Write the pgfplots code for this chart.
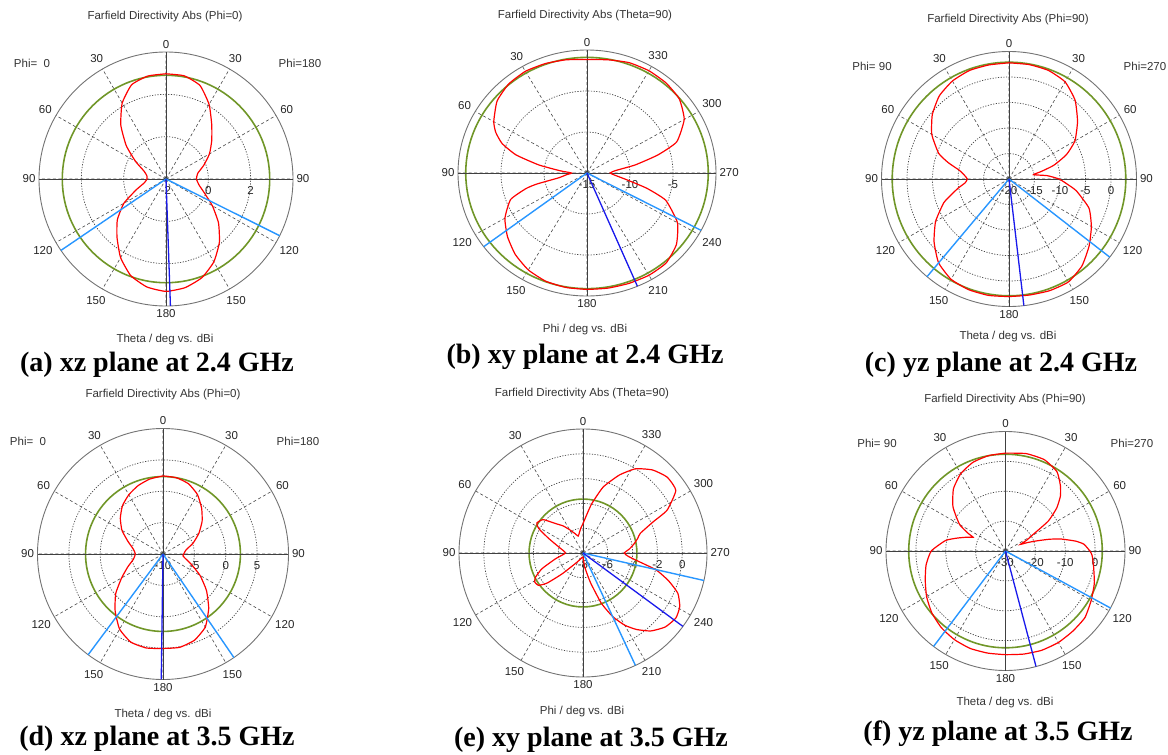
\documentclass[border=0pt]{standalone}
\usepackage{fontspec}
\setmainfont{Liberation Sans}
\newfontfamily\capfont{Liberation Serif}
\usepackage{pgfplots}
\usepgfplotslibrary{polar}
\pgfplotsset{compat=1.18}
\usepackage{pgfplotstable}

\definecolor{cstred}{RGB}{255,0,0}
\definecolor{cstgreen}{RGB}{112,150,40}
\definecolor{cstblue}{RGB}{25,25,235}
\definecolor{cstlblue}{RGB}{40,150,255}
\definecolor{cstgrid}{RGB}{70,70,70}

\newcommand\cstf{\fontsize{11.5}{13}\selectfont}
\newcommand\capf{\capfont\bfseries\fontsize{28}{32}\selectfont}

\pgfplotsset{
  cst/.style={
    scale only axis, clip=false,
    xmin=0, xmax=360, ymin=0,
    xtick={0,30,...,330},
    grid=major,
    x grid style={dash pattern=on 3pt off 2.5pt, cstgrid, line width=0.6pt},
    y grid style={dash pattern=on 1.2pt off 1.5pt, cstgrid, line width=0.7pt},
    axis line style={black!55, line width=0.9pt},
    tick style={draw=none},
    xticklabel style={font=\cstf, text=black!85},
    yticklabel style={font=\cstf, text=black!85, anchor=north, yshift=-4pt},
    extra y tick style={grid=major, y grid style={solid, cstgreen, line width=1.6pt}, major grid style={solid, cstgreen, line width=1.6pt}},
    extra y tick labels={},
  },
  thetalab/.style={xticklabels={90,60,30,0,30,60,90,120,150,180,150,120}},
  philab/.style={xticklabels={270,300,330,0,30,60,90,120,150,180,210,240}},
  redc/.style={cstred, line width=1.2pt, smooth, tension=0.3},
  crossl/.style={black!75, line width=0.7pt},
  mainl/.style={cstblue, line width=1.3pt},
  bwl/.style={cstlblue, line width=1.4pt},
}

% ---- (a) xz 2.4 GHz, dBi, centre -2
\pgfplotstableread{
t d
0 2.97
10 2.94
20 2.74
30 2.14
40 1.32
50 0.45
60 -0.34
70 -0.89
80 -1.08
90 -1.10
100 -0.96
110 -0.50
120 0.30
130 1.00
140 1.60
150 2.29
160 2.86
170 3.18
180 3.31
190 3.21
200 2.96
210 2.52
220 1.92
230 1.24
240 0.53
250 -0.07
260 -0.42
270 -0.56
280 -0.48
290 -0.10
300 0.37
310 0.82
320 1.36
330 2.07
340 2.70
350 2.95
360 2.97
}\tabA
% ---- (b) xy 2.4 GHz, centre -15
\pgfplotstableread{
t d
0 -1.17
10 -0.98
20 -0.80
30 -0.68
40 -0.83
50 -1.35
60 -2.48
65 -3.30
70 -4.50
75 -6.45
80 -9.30
85 -11.85
90 -13.20
95 -12.60
100 -11.70
103 -9.00
105 -7.65
110 -5.55
120 -3.98
130 -2.93
140 -2.03
150 -1.35
160 -0.96
170 -0.83
180 -0.81
190 -0.75
200 -0.68
210 -0.60
220 -0.68
230 -1.43
240 -2.85
250 -5.25
255 -7.80
260 -10.35
265 -11.70
270 -12.30
275 -11.70
280 -9.30
285 -6.45
290 -3.90
300 -1.95
310 -0.98
320 -0.68
330 -0.60
340 -0.68
350 -0.98
360 -1.17
}\tabB
% ---- (c) yz 2.4 GHz, centre -20
\pgfplotstableread{
t d
0 2.78
10 2.71
20 2.65
30 2.19
40 1.27
50 -0.37
60 -2.52
70 -5.34
75 -7.70
80 -10.10
85 -11.20
90 -11.82
95 -11.36
100 -9.92
105 -8.35
110 -6.39
120 -3.38
130 -0.82
140 1.47
150 2.71
160 3.10
170 3.17
180 3.04
190 3.10
200 3.30
210 3.30
220 2.25
230 0.49
240 -1.35
250 -3.31
260 -6.58
265 -8.55
270 -10.18
275 -12.47
280 -15.09
283 -13.59
287 -10.84
293 -7.76
300 -5.08
310 -2.46
320 0.16
330 1.99
340 2.65
350 2.78
360 2.78
}\tabC
% ---- (d) xz 3.5 GHz, centre -10
\pgfplotstableread{
t d
0 2.45
10 2.13
20 1.60
30 0.90
40 0.05
50 -1.12
60 -2.45
70 -4.04
80 -5.16
90 -5.59
100 -5.21
110 -4.04
120 -2.39
130 -0.16
140 1.86
150 3.83
160 4.95
170 5.21
180 5.05
190 5.11
200 4.63
210 3.46
220 1.33
230 -0.96
240 -3.19
250 -5.21
260 -6.49
265 -6.81
270 -6.70
280 -6.28
290 -4.89
300 -3.40
310 -1.86
320 -0.43
330 0.96
340 1.91
350 2.34
360 2.45
}\tabD
% ---- (e) xy 3.5 GHz, centre -8
\pgfplotstableread{
t d
0 -5.63
5 -5.98
10 -6.33
16 -6.58
22 -6.33
29 -5.90
36 -5.31
43 -4.75
50 -3.81
57 -3.56
61 -3.91
67 -4.99
78 -6.12
90 -6.58
102 -5.72
111 -4.45
117 -3.70
121 -3.46
126 -3.56
130 -4.24
135 -5.63
144 -6.95
155 -7.41
165 -7.60
175 -7.68
180 -7.68
187 -6.87
194 -5.58
200 -3.70
205 -2.35
210 -1.28
215 -0.47
221 0.33
228 0.92
235 1.14
241 0.92
247 0.31
252 -0.74
257 -1.95
262 -3.62
266 -4.37
270 -4.67
275 -4.24
280 -3.83
285 -3.43
289 -3.11
294 -1.79
297 -0.39
304 1.03
312 1.14
320 0.74
328 0.01
335 -1.06
343 -2.44
350 -3.97
355 -4.99
360 -5.63
}\tabE
% ---- (f) yz 3.5 GHz, centre -30
\pgfplotstableread{
t d
0 2.77
10 2.43
20 1.64
30 -0.06
40 -2.88
50 -7.06
60 -12.26
65 -16.44
67 -18.25
70 -16.44
75 -13.28
80 -9.66
90 -5.14
100 -3.00
110 -1.41
120 0.51
130 2.20
140 3.45
150 4.24
160 4.69
170 4.69
180 4.69
190 5.03
200 5.37
210 5.37
220 5.03
230 4.69
240 3.11
250 1.64
260 -0.06
267 -0.96
270 -1.75
275 -3.67
278 -6.27
282 -10.79
285 -14.75
288 -19.04
291 -22.09
294 -24.58
297 -22.09
301 -19.15
305 -12.49
310 -7.63
315 -4.01
320 -1.41
327 1.64
337 3.22
348 3.33
360 2.77
}\tabF

\begin{document}
\begin{tikzpicture}
\path[use as bounding box] (0pt,0pt) rectangle (1168pt,-755pt);

% ================= (a)
\begin{polaraxis}[cst, thetalab, at={(166pt,-179pt)}, anchor=center,
  width=254pt, height=254pt, ymax=6,
  ytick={0,2,4}, yticklabels={-2,0,2}, extra y ticks={4.9}]
\addplot[crossl] table[row sep=\\] {x y\\ 0 6\\ 180 6\\};
\addplot[crossl] table[row sep=\\] {x y\\ 90 6\\ 270 6\\};
\addplot[redc] table[x expr={mod(\thisrow{t}+90,360)}, y expr={\thisrow{d}+2}] {\tabA};
\addplot[bwl] table[x expr={mod(\thisrow{t}+90,360)}, y expr={\thisrow{d}+2}, row sep=\\] {t d\\ 124.2 -2\\ 124.2 4\\};
\addplot[bwl] table[x expr={mod(\thisrow{t}+90,360)}, y expr={\thisrow{d}+2}, row sep=\\] {t d\\ 243.5 -2\\ 243.5 4\\};
\addplot[mainl] table[x expr={mod(\thisrow{t}+90,360)}, y expr={\thisrow{d}+2}, row sep=\\] {t d\\ 182 -2\\ 182 4\\};
\end{polaraxis}

% ================= (b)
\begin{polaraxis}[cst, philab, at={(587pt,-173pt)}, anchor=center,
  width=258pt, height=246pt, ymax=15,
  ytick={0,5,10}, yticklabels={-15,-10,-5}, extra y ticks={14.1}]
\addplot[crossl] table[row sep=\\] {x y\\ 0 15\\ 180 15\\};
\addplot[crossl] table[row sep=\\] {x y\\ 90 15\\ 270 15\\};
\addplot[redc] table[x expr={mod(\thisrow{t}+90,360)}, y expr={\thisrow{d}+15}] {\tabB};
\addplot[bwl] table[x expr={mod(\thisrow{t}+90,360)}, y expr={\thisrow{d}+15}, row sep=\\] {t d\\ 126.8 -15\\ 126.8 0\\};
\addplot[bwl] table[x expr={mod(\thisrow{t}+90,360)}, y expr={\thisrow{d}+15}, row sep=\\] {t d\\ 242.2 -15\\ 242.2 0\\};
\addplot[mainl] table[x expr={mod(\thisrow{t}+90,360)}, y expr={\thisrow{d}+15}, row sep=\\] {t d\\ 203 -15\\ 203 0\\};
\end{polaraxis}

% ================= (c)
\begin{polaraxis}[cst, thetalab, at={(1009pt,-179pt)}, anchor=center,
  width=255pt, height=255pt, ymax=25,
  ytick={0,5,10,15,20}, yticklabels={-20,-15,-10,-5,0}, extra y ticks={22.9}]
\addplot[crossl] table[row sep=\\] {x y\\ 0 25\\ 180 25\\};
\addplot[crossl] table[row sep=\\] {x y\\ 90 25\\ 270 25\\};
\addplot[redc] table[x expr={mod(\thisrow{t}+90,360)}, y expr={\thisrow{d}+20}] {\tabC};
\addplot[bwl] table[x expr={mod(\thisrow{t}+90,360)}, y expr={\thisrow{d}+20}, row sep=\\] {t d\\ 140 -20\\ 140 5\\};
\addplot[bwl] table[x expr={mod(\thisrow{t}+90,360)}, y expr={\thisrow{d}+20}, row sep=\\] {t d\\ 232.2 -20\\ 232.2 5\\};
\addplot[mainl] table[x expr={mod(\thisrow{t}+90,360)}, y expr={\thisrow{d}+20}, row sep=\\] {t d\\ 186.7 -20\\ 186.7 5\\};
\end{polaraxis}

% ================= (d)
\begin{polaraxis}[cst, thetalab, at={(163pt,-554pt)}, anchor=center,
  width=251pt, height=251pt, ymax=20,
  ytick={0,5,10,15}, yticklabels={-10,-5,0,5}, extra y ticks={12.34}]
\addplot[crossl] table[row sep=\\] {x y\\ 0 20\\ 180 20\\};
\addplot[crossl] table[row sep=\\] {x y\\ 90 20\\ 270 20\\};
\addplot[redc] table[x expr={mod(\thisrow{t}+90,360)}, y expr={\thisrow{d}+10}] {\tabD};
\addplot[bwl] table[x expr={mod(\thisrow{t}+90,360)}, y expr={\thisrow{d}+10}, row sep=\\] {t d\\ 143.4 -10\\ 143.4 10\\};
\addplot[bwl] table[x expr={mod(\thisrow{t}+90,360)}, y expr={\thisrow{d}+10}, row sep=\\] {t d\\ 214.4 -10\\ 214.4 10\\};
\addplot[mainl] table[x expr={mod(\thisrow{t}+90,360)}, y expr={\thisrow{d}+10}, row sep=\\] {t d\\ 179.2 -10\\ 179.2 10\\};
\end{polaraxis}

% ================= (e)
\begin{polaraxis}[cst, philab, at={(583pt,-553pt)}, anchor=center,
  width=248pt, height=248pt, ymax=10,
  ytick={0,2,4,6,8}, yticklabels={-8,-6,-4,-2,0}, extra y ticks={4.35}]
\addplot[crossl] table[row sep=\\] {x y\\ 0 10\\ 180 10\\};
\addplot[crossl] table[row sep=\\] {x y\\ 90 10\\ 270 10\\};
\addplot[redc] table[x expr={mod(\thisrow{t}+90,360)}, y expr={\thisrow{d}+8}] {\tabE};
\addplot[bwl] table[x expr={mod(\thisrow{t}+90,360)}, y expr={\thisrow{d}+8}, row sep=\\] {t d\\ 205 -8\\ 205 2\\};
\addplot[bwl] table[x expr={mod(\thisrow{t}+90,360)}, y expr={\thisrow{d}+8}, row sep=\\] {t d\\ 257.2 -8\\ 257.2 2\\};
\addplot[mainl] table[x expr={mod(\thisrow{t}+90,360)}, y expr={\thisrow{d}+8}, row sep=\\] {t d\\ 233.7 -8\\ 233.7 2\\};
\end{polaraxis}

% ================= (f)
\begin{polaraxis}[cst, thetalab, at={(1005.5pt,-551pt)}, anchor=center,
  width=239pt, height=239pt, ymax=40,
  ytick={0,10,20,30}, yticklabels={-30,-20,-10,0}, extra y ticks={32.4}]
\addplot[crossl] table[row sep=\\] {x y\\ 0 40\\ 180 40\\};
\addplot[crossl] table[row sep=\\] {x y\\ 90 40\\ 270 40\\};
\addplot[redc] table[x expr={mod(\thisrow{t}+90,360)}, y expr={\thisrow{d}+30}] {\tabF};
\addplot[bwl] table[x expr={mod(\thisrow{t}+90,360)}, y expr={\thisrow{d}+30}, row sep=\\] {t d\\ 143 -30\\ 143 10\\};
\addplot[bwl] table[x expr={mod(\thisrow{t}+90,360)}, y expr={\thisrow{d}+30}, row sep=\\] {t d\\ 241.5 -30\\ 241.5 10\\};
\addplot[mainl] table[x expr={mod(\thisrow{t}+90,360)}, y expr={\thisrow{d}+30}, row sep=\\] {t d\\ 194.8 -30\\ 194.8 10\\};
\end{polaraxis}

% ---------- texts
\begin{scope}[every node/.style={font=\cstf, text=black!80, inner sep=0pt}]
\node at (165pt,-17pt) {Farfield Directivity Abs (Phi=0)};
\node at (585pt,-16pt) {Farfield Directivity Abs (Theta=90)};
\node at (1008pt,-20pt) {Farfield Directivity Abs (Phi=90)};
\node at (163pt,-395pt) {Farfield Directivity Abs (Phi=0)};
\node at (582pt,-394pt) {Farfield Directivity Abs (Theta=90)};
\node at (1005pt,-400pt) {Farfield Directivity Abs (Phi=90)};
\node at (165pt,-340pt) {Theta / deg vs. dBi};
\node at (585pt,-330pt) {Phi / deg vs. dBi};
\node at (1008pt,-337pt) {Theta / deg vs. dBi};
\node at (163pt,-715pt) {Theta / deg vs. dBi};
\node at (582pt,-712pt) {Phi / deg vs. dBi};
\node at (1005pt,-703pt) {Theta / deg vs. dBi};
\node at (32pt,-63pt) {Phi=\ \ 0};
\node at (300pt,-63pt) {Phi=180};
\node at (872pt,-66pt) {Phi= 90};
\node at (1145pt,-66pt) {Phi=270};
\node at (28pt,-441pt) {Phi=\ \ 0};
\node at (298pt,-441pt) {Phi=180};
\node at (877pt,-443pt) {Phi= 90};
\node at (1132pt,-443pt) {Phi=270};
\end{scope}
\begin{scope}[every node/.style={font=\capf, inner sep=0pt}]
\node at (157pt,-365pt) {(a) xz plane at 2.4 GHz};
\node at (585pt,-357pt) {(b) xy plane at 2.4 GHz};
\node at (1001pt,-365pt) {(c) yz plane at 2.4 GHz};
\node at (157pt,-739pt) {(d) xz plane at 3.5 GHz};
\node at (591pt,-740pt) {(e) xy plane at 3.5 GHz};
\node at (998pt,-734pt) {(f) yz plane at 3.5 GHz};
\end{scope}
\end{tikzpicture}
\end{document}
